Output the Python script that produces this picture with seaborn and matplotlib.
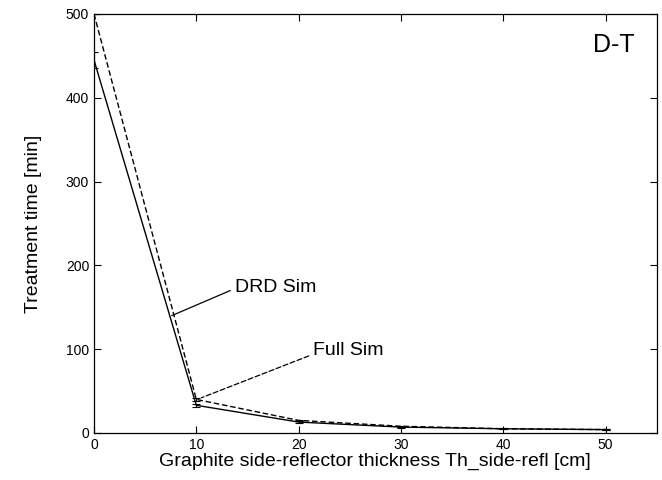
import matplotlib
matplotlib.use("Agg")
import matplotlib.pyplot as plt
import seaborn as sns
import pandas as pd

thickness = [0, 10, 20, 30, 40, 50]
drd_sim = [445, 33, 13, 7, 5, 4]
drd_err = [9, 2, 1, 0.5, 0.5, 0.5]
full_sim = [500, 40, 15, 8, 5, 4]
full_err = [0, 2, 1, 0.5, 0.5, 0.5]
x_ticks = [0, 10, 20, 30, 40, 50]
y_ticks = [0, 100, 200, 300, 400, 500]

sns.set_style("ticks")
plt.rcParams['font.family'] = ['Liberation Sans', 'DejaVu Sans']
plt.rcParams['text.color'] = 'black'
plt.rcParams['axes.labelcolor'] = 'black'

df = pd.DataFrame({"x": thickness * 2,
                   "y": drd_sim + full_sim,
                   "series": ["DRD Sim"] * 6 + ["Full Sim"] * 6})

fig = plt.figure(figsize=(6.62, 4.8), dpi=100)
ax = fig.add_axes([0.142, 0.098, 0.850, 0.873])

sns.lineplot(data=df, x="x", y="y", style="series", ax=ax, color="black",
             linewidth=1.0, dashes={"DRD Sim": "", "Full Sim": (4, 2)},
             legend=False)
ax.errorbar(thickness, drd_sim, yerr=drd_err, fmt="none", ecolor="black",
            elinewidth=0.8, capsize=3, capthick=0.8)
ax.errorbar(thickness, full_sim, yerr=full_err, fmt="none", ecolor="black",
            elinewidth=0.8, capsize=3, capthick=0.8)

ax.set_xlim(0, 55)
ax.set_ylim(0, 500)
ax.set_xticks(x_ticks)
ax.set_yticks(y_ticks)
ax.tick_params(direction="in", top=True, right=True, length=5, width=0.8,
               labelsize=10, colors="black")
for s in ax.spines.values():
    s.set_linewidth(0.9)
    s.set_color("black")

ax.set_xlabel("Graphite side-reflector thickness Th_side-refl [cm]", fontsize=14, labelpad=1)
ax.set_ylabel("Treatment time [min]", fontsize=14, labelpad=17)

ax.annotate("DRD Sim", xy=(7.6, 140), xytext=(13.8, 173), fontsize=14,
            va="center", ha="left",
            arrowprops=dict(arrowstyle="-", color="black", lw=0.9,
                            shrinkA=0, shrinkB=0, relpos=(-0.06, 0.35)))
ax.annotate("Full Sim", xy=(10.5, 42), xytext=(21.4, 98), fontsize=14,
            va="center", ha="left",
            arrowprops=dict(arrowstyle="-", color="black", lw=0.9, ls=(0, (4, 2)),
                            shrinkA=0, shrinkB=0, relpos=(-0.06, 0.2)))
ax.text(48.8, 463, "D-T", fontsize=18, ha="left", va="center")

fig.savefig("out.png", dpi=100)
